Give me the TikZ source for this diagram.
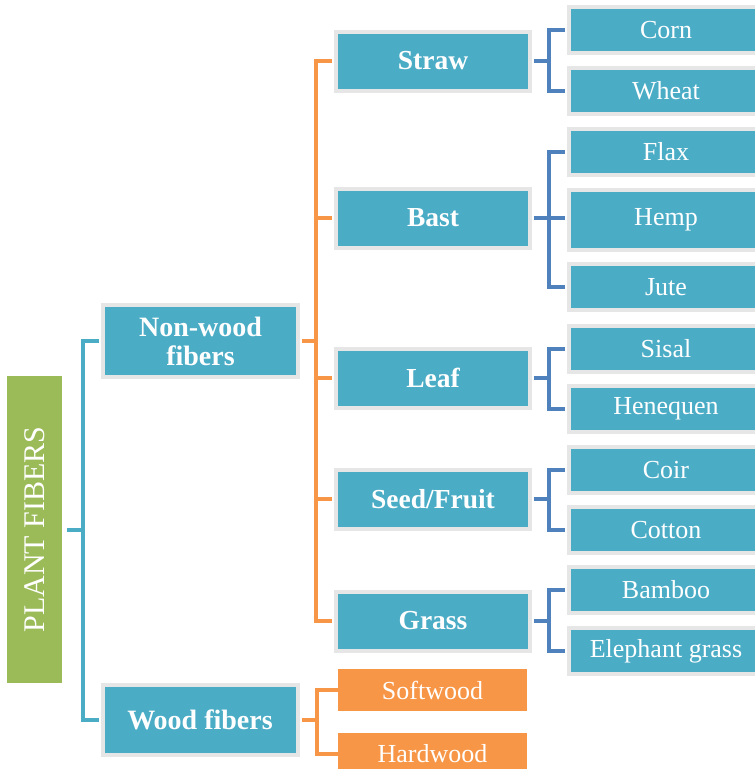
\documentclass[tikz,border=0pt]{standalone}
\usepackage{fontspec}
\setmainfont{Liberation Serif}
\definecolor{teal}{HTML}{4BACC6}
\definecolor{gborder}{HTML}{E6E6E6}
\definecolor{blueline}{HTML}{4F81BD}
\definecolor{orangec}{HTML}{F79646}
\definecolor{greenc}{HTML}{9BBB59}
\begin{document}
\begin{tikzpicture}[x=1pt,y=-1pt,
  box/.style={rectangle, fill=teal, draw=gborder, line width=4pt, inner sep=0pt, text=white, align=center},
  lvone/.style={box, minimum width=195pt, minimum height=70pt, font=\fontsize{28}{29}\selectfont\bfseries},
  lvtwo/.style={box, minimum width=194pt, minimum height=59pt, font=\fontsize{27.5}{28}\selectfont\bfseries},
  lvthree/.style={box, minimum width=194pt, minimum height=46pt, font=\fontsize{26}{27}\selectfont},
  woodbox/.style={rectangle, fill=orangec, inner sep=0pt, text=white, minimum width=189pt, minimum height=42pt, font=\fontsize{26}{27}\selectfont},
  tealline/.style={draw=teal, line width=4pt},
  orangeline/.style={draw=orangec, line width=4pt},
  blueln/.style={draw=blueline, line width=4pt}
]
\useasboundingbox (0,0) rectangle (755,769);
% root
\node[rectangle, fill=greenc, inner sep=0pt, minimum width=55pt, minimum height=307pt] (plant) at (34.5,529.5) {};
\node[rotate=90, text=white, font=\fontsize{30}{31}\selectfont] (plantt) at (plant.center) {PLANT FIBERS};
% level 1
\node[lvone, minimum height=72pt] (nonwood) at (200.5,341) {Non-wood\\fibers};
\node[lvone] (wood) at (200,720) {Wood fibers};
% level 2
\node[lvtwo] (straw) at (433,61) {Straw};
\node[lvtwo] (bast) at (433,218) {Bast};
\node[lvtwo] (leaf) at (433,378) {Leaf};
\node[lvtwo] (seed) at (433,499) {Seed/Fruit};
\node[lvtwo] (grass) at (433,621) {Grass};
% level 3
\node[lvthree] (corn) at (666,30) {Corn};
\node[lvthree] (wheat) at (666,91) {Wheat};
\node[lvthree] (flax) at (666,152) {Flax};
\node[lvthree, minimum height=60pt] (hemp) at (666,220) {Hemp};
\node[lvthree] (jute) at (666,287) {Jute};
\node[lvthree] (sisal) at (666,349) {Sisal};
\node[lvthree] (henequen) at (666,409) {Henequen};
\node[lvthree] (coir) at (666,470) {Coir};
\node[lvthree] (cotton) at (666,530) {Cotton};
\node[lvthree] (bamboo) at (666,590) {Bamboo};
\node[lvthree] (elephant) at (666,651) {Elephant grass};
% wood children
\node[woodbox] (soft) at (432.5,690) {Softwood};
\node[woodbox] (hard) at (432.5,754) {Hardwood};
% trunk connectors
\path (plant.east) ++(21,0) coordinate (t);
\draw[tealline, shorten <=5pt] (plant.east) -- (t);
\draw[tealline, shorten >=2pt] (t) |- (nonwood.west);
\draw[tealline, shorten >=2pt] (t) |- (wood.west);
% orange non-wood
\path (nonwood.east) ++(16,0) coordinate (o);
\draw[orangeline, shorten <=2pt] (nonwood.east) -- (o);
\foreach \n in {straw,bast,leaf,seed,grass}
  \draw[orangeline, shorten >=2pt] (o) |- (\n.west);
% orange wood
\path (wood.east) ++(17,0) coordinate (w);
\draw[orangeline, shorten <=2pt] (wood.east) -- (w);
\draw[orangeline] (w) |- (soft.west);
\draw[orangeline] (w) |- (hard.west);
% blue connectors
\foreach \p/\a/\b in {straw/corn/wheat, bast/flax/jute, leaf/sisal/henequen, seed/coir/cotton, grass/bamboo/elephant}{
  \path (\p.east) ++(17,0) coordinate (b\p);
  \draw[blueln, shorten <=2pt] (\p.east) -- (b\p);
  \draw[blueln, shorten >=2pt] (b\p) |- (\a.west);
  \draw[blueln, shorten >=2pt] (b\p) |- (\b.west);
}
\draw[blueln, shorten >=2pt] (bbast) -- (bbast -| hemp.west);
\end{tikzpicture}
\end{document}
